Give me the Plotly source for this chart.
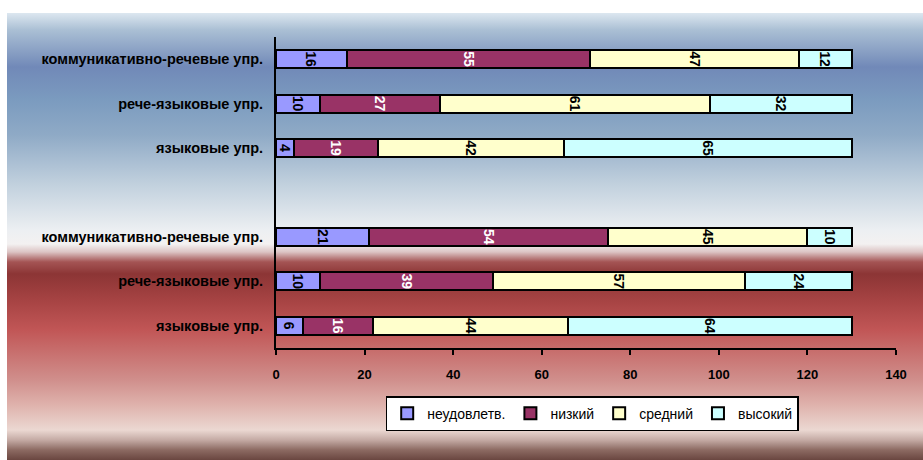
import base64
import plotly.graph_objects as go

# Row labels, bottom to top; slot 3 is left empty between the two groups
row_labels = [
    "языковые упр.",
    "рече-языковые упр.",
    "коммуникативно-речевые упр.",
    "",
    "языковые упр.",
    "рече-языковые упр.",
    "коммуникативно-речевые упр.",
]
row_pos = [0, 1, 2, 4, 5, 6]

levels = ["неудовлетв.", "низкий", "средний", "высокий"]
level_colors = ["#9999ff", "#993366", "#ffffcc", "#ccffff"]
label_colors = ["#000000", "#ffffff", "#000000", "#000000"]

# values per level for the rows in row_pos order
unsatisfactory = [6, 10, 21, 4, 10, 16]
low = [16, 39, 54, 19, 27, 55]
medium = [44, 57, 45, 42, 61, 47]
high = [64, 24, 10, 65, 32, 12]
series = [unsatisfactory, low, medium, high]

x_ticks = [0, 20, 40, 60, 80, 100, 120, 140]

W, H = 923, 460
ML, MR, MT, MB = 276, 27, 37, 112
PW, PH = W - ML - MR, H - MT - MB

FONT = "Liberation Sans, Arial, sans-serif"

fig = go.Figure()
for name, vals, col, tcol in zip(levels, series, level_colors, label_colors):
    fig.add_trace(go.Bar(
        name=name,
        y=row_pos,
        x=vals,
        orientation="h",
        width=0.41,
        marker=dict(color=col, line=dict(color="#000000", width=2)),
        text=[str(v) for v in vals],
        textposition="inside",
        insidetextanchor="middle",
        textangle=90,
        constraintext="none",
        textfont=dict(family=FONT, size=14, color=tcol, weight="bold"),
        hoverinfo="skip",
    ))

# vertical gradient backdrop: blue on top, red below
stops = [
    (13, "#ffffff"), (13.5, "#dbe6ef"), (30, "#aabfd4"), (67, "#7189b8"),
    (100, "#7b9bbf"), (135, "#8faac6"), (185, "#c2d1de"), (230, "#eceff2"),
    (244, "#f3f1f1"), (252, "#dcc4c4"), (262, "#a45454"), (274, "#8c3535"),
    (300, "#a64343"), (330, "#c15656"), (380, "#d08f8c"), (407, "#e0b5af"),
    (430, "#ebd8d2"), (440, "#c4aaa4"), (450, "#8c6a62"), (460, "#6a4640"),
]
top, bot = 13, 460
stop_xml = "".join(
    f'<stop offset="{(y - top) / (bot - top):.4f}" stop-color="{c}"/>' for y, c in stops[1:]
)
svg = (
    f'<svg xmlns="http://www.w3.org/2000/svg" width="{W - 7}" height="{bot - top}" '
    f'preserveAspectRatio="none">'
    f'<defs><linearGradient id="g" x1="0" y1="0" x2="0" y2="1">{stop_xml}</linearGradient></defs>'
    f'<rect x="0" y="0" width="100%" height="100%" fill="url(#g)"/></svg>'
)
src = "data:image/svg+xml;base64," + base64.b64encode(svg.encode()).decode()

fig.add_layout_image(dict(
    source=src,
    xref="paper", yref="paper",
    x=(7 - ML) / PW, y=(H - MB - top) / PH,
    sizex=(W - 7) / PW, sizey=(bot - top) / PH,
    sizing="stretch", xanchor="left", yanchor="top",
    layer="below",
))

fig.update_layout(
    width=W, height=H,
    margin=dict(l=ML, r=MR, t=MT, b=MB),
    barmode="stack",
    paper_bgcolor="#ffffff",
    plot_bgcolor="rgba(0,0,0,0)",
    font=dict(family=FONT, color="#000000"),
    showlegend=True,
    legend=dict(
        orientation="h",
        x=0.51, xanchor="center",
        y=-0.155, yanchor="top",
        bgcolor="#ffffff",
        bordercolor="#000000",
        borderwidth=1.5,
        font=dict(family=FONT, size=14, color="#000000"),
        itemwidth=30,
        traceorder="normal",
    ),
    xaxis=dict(
        range=[0, 140],
        tickvals=x_ticks,
        ticktext=[str(v) for v in x_ticks],
        showgrid=False,
        zeroline=False,
        showline=True,
        linecolor="#000000",
        linewidth=2,
        ticks="outside",
        ticklen=5,
        tickwidth=2,
        tickcolor="#000000",
        tickfont=dict(family=FONT, size=13, color="#000000", weight="bold"),
        ticklabelstandoff=8,
        fixedrange=True,
    ),
    yaxis=dict(
        range=[-0.5, 6.5],
        tickvals=list(range(len(row_labels))),
        ticktext=row_labels,
        showgrid=False,
        zeroline=False,
        showline=True,
        linecolor="#000000",
        linewidth=2,
        ticks="",
        tickfont=dict(family=FONT, size=14.5, color="#000000", weight="bold"),
        ticklabelstandoff=8,
        fixedrange=True,
    ),
)

fig.write_html("out.html")
